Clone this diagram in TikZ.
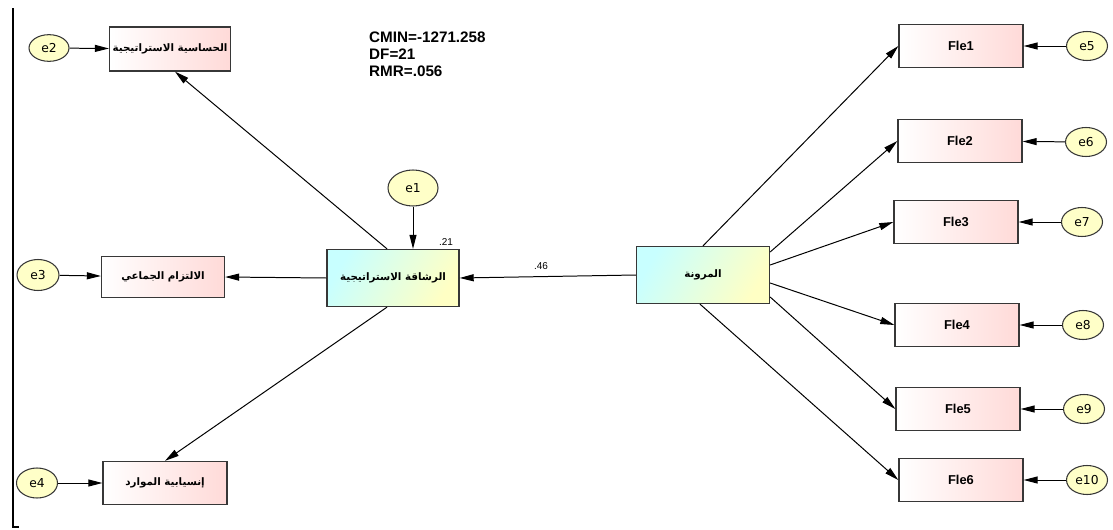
\documentclass[tikz,border=0pt]{standalone}
\usepackage{fontspec}
\setmainfont{Liberation Sans}
\newfontfamily\arabicfont[Script=Arabic]{DejaVu Sans}
\newfontfamily\errfont{DejaVu Sans}
\TeXXeTstate=1
\usetikzlibrary{shapes.geometric,arrows.meta}
\definecolor{boxpink}{RGB}{255,218,216}
\definecolor{latcyan}{RGB}{200,255,255}
\definecolor{latyellow}{RGB}{255,255,196}
\definecolor{errfill}{RGB}{255,255,200}
\definecolor{edge}{RGB}{55,55,55}
\tikzset{
  obsbox/.style={draw=edge, line width=1.1pt, rectangle, left color=white, right color=boxpink,
    minimum width=3.72cm, minimum height=1.29cm, inner sep=0pt,
    font=\bfseries\fontsize{11}{13}\selectfont},
  arbox/.style={obsbox, font=\arabicfont\bfseries\fontsize{8.8}{10}\selectfont},
  latbox/.style={draw=edge, line width=1.1pt, rectangle, shading=axis,
    left color=latcyan, right color=latyellow, shading angle=60,
    minimum width=3.96cm, minimum height=1.71cm, inner sep=0pt,
    font=\arabicfont\bfseries\fontsize{8.8}{10}\selectfont},
  errnode/.style={draw=edge, line width=0.9pt, ellipse, fill=errfill,
    minimum width=1.23cm, minimum height=0.87cm, inner sep=0pt,
    font=\errfont\fontsize{10.5}{12}\selectfont},
  path/.style={draw=black, line width=0.85pt, -{Triangle[length=12pt,width=6pt]}},
  coef/.style={font=\fontsize{8.5}{10}\selectfont, inner sep=1pt}
}
\begin{document}
\begin{tikzpicture}[x=0.03cm, y=-0.03cm]
\useasboundingbox (0,0) rectangle (1113,530);
% left frame line
\draw[line width=1.2pt] (13,8) -- (13,527) -- (19,527);

% left-hand indicators
\node[arbox, minimum width=3.63cm, minimum height=1.32cm] (s1) at (170,49) {\beginR الحساسية الاستراتيجية\endR};
\node[arbox, minimum width=3.69cm, minimum height=1.23cm] (s2) at (163,277) {\beginR الالتزام  الجماعي\endR};
\node[arbox, minimum height=1.29cm] (s3) at (165,483) {\beginR إنسيابية الموارد\endR};

% latent variables
\node[latbox] (agil) at (393,278) {\beginR الرشاقة الاستراتيجية\endR};
\node[latbox, minimum width=3.99cm] (flex) at (703,275) {\beginR المرونة\endR};

% right-hand indicators
\node[obsbox] (f1) at (961,46) {Fle1};
\node[obsbox] (f2) at (960,141) {Fle2};
\node[obsbox] (f3) at (956,222) {Fle3};
\node[obsbox] (f4) at (957,325) {Fle4};
\node[obsbox] (f5) at (958,409) {Fle5};
\node[obsbox] (f6) at (961,480) {Fle6};

% error terms
\node[errnode, minimum width=1.20cm, minimum height=0.80cm] (e2) at (49,48) {e2};
\node[errnode, minimum width=1.26cm, minimum height=0.93cm] (e3) at (38,275) {e3};
\node[errnode, minimum width=1.23cm, minimum height=0.90cm] (e4) at (37,483) {e4};
\node[errnode, minimum width=1.50cm, minimum height=1.08cm] (e1) at (413,188) {e1};
\node[errnode] (e5) at (1087,46) {e5};
\node[errnode] (e6) at (1086,142) {e6};
\node[errnode] (e7) at (1082,222) {e7};
\node[errnode] (e8) at (1083,325) {e8};
\node[errnode] (e9) at (1084,409) {e9};
\node[errnode] (e10) at (1087,480) {e10};

% fit statistics
\node[anchor=north west, align=left, inner sep=0pt, font=\bfseries\fontsize{13}{14.5}\selectfont] (fit) at (369,32)
  {CMIN=-1271.258\\DF=21\\RMR=.056};

% coefficient labels
\node[coef] (r2) at (446,242) {.21};
\node[coef] (b1) at (541,266) {.46};

% error paths
\draw[path] (e2) -- (s1);
\draw[path] (e3) -- (s2);
\draw[path] (e4) -- (s3);
\draw[path] (e1.south) -- (e1.south |- agil.north);
\draw[path] (e5) -- (f1);
\draw[path] (e6) -- (f2);
\draw[path] (e7) -- (f3);
\draw[path] (e8) -- (f4);
\draw[path] (e9) -- (f5);
\draw[path] (e10) -- (f6);

% structural path
\draw[path] (flex.west) -- (agil.east);

% loadings of the agility factor
\draw[path] ([xshift=-0.18cm]agil.north) -- ([xshift=0.15cm]s1.south);
\draw[path] (agil.west) -- (s2.east);
\draw[path] ([xshift=-0.18cm]agil.south) -- (s3.north);

% loadings of the flexibility factor
\draw[path] (flex.north) -- (f1.west);
\draw[path] ([yshift=0.69cm]flex.east) -- (f2.west);
\draw[path] ([yshift=0.30cm]flex.east) -- (f3.west);
\draw[path] ([yshift=-0.24cm]flex.east) -- (f4.west);
\draw[path] ([yshift=-0.66cm]flex.east) -- (f5.west);
\draw[path] ([xshift=-0.09cm]flex.south) -- (f6.west);
\end{tikzpicture}
\end{document}
